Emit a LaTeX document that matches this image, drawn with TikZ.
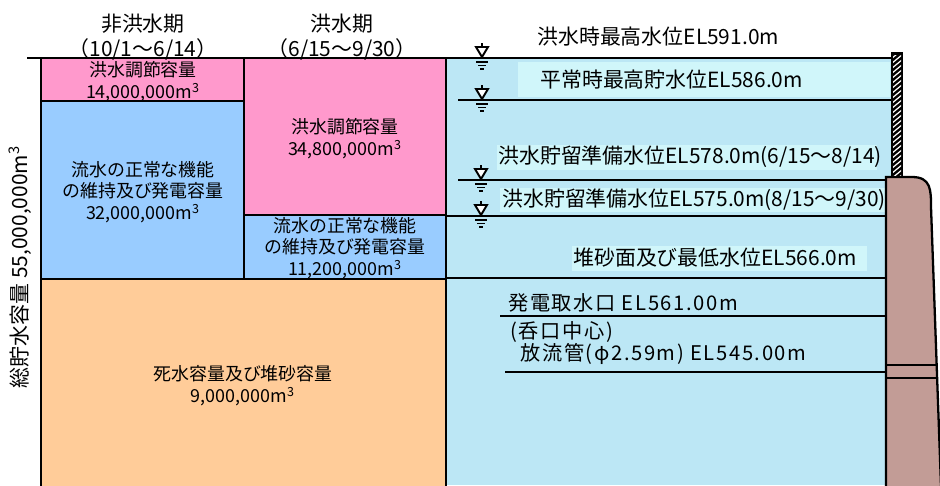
\documentclass[tikz,border=0pt]{standalone}
\usepackage{fontspec}
\setmainfont{Noto Sans CJK JP}
\newfontfamily\widejp[LetterSpace=8]{Noto Sans CJK JP}
\definecolor{floodpink}{RGB}{255,153,204}
\definecolor{usableblue}{RGB}{153,204,255}
\definecolor{deadorange}{RGB}{255,204,153}
\definecolor{waterblue}{RGB}{188,231,245}
\definecolor{tagblue}{RGB}{208,246,250}
\definecolor{damrose}{RGB}{194,156,150}

\begin{document}
\begin{tikzpicture}[
        x=0.02cm, y=-0.02cm,
        capbox/.style={draw, line width=1.1pt},
        captext/.style={align=center, inner sep=0pt, font=\fontsize{10.2}{12.4}\selectfont},
        period/.style={align=center, inner sep=0pt, font=\fontsize{11.9}{14.2}\selectfont},
        level/.style={line width=1.1pt},
        leveltext/.style={anchor=west, inner sep=0pt, font=\fontsize{11.9}{14}\selectfont},
        wlmark/.pic={
            \draw[line width=1.1pt] (0,-15) -- (0,-11);
            \draw[line width=1.1pt, fill=white] (-6,-11) -- (6,-11) -- (0,-1) -- cycle;
            \draw[line width=1pt] (-6,4) -- (6,4) (-4,7.5) -- (4,7.5) (-2,11) -- (2,11);
        }
    ]
    \useasboundingbox (0,0) rectangle (940,485);

    % 貯水池
    \fill[waterblue] (446,58) rectangle (891,485);
    \fill[tagblue] (518,62) rectangle (890,97);
    \fill[tagblue] (497,145) rectangle (877,170);
    \fill[tagblue] (500,188) rectangle (885,212);
    \fill[tagblue] (572,246) rectangle (867,271);

    % 容量配分
    \draw[capbox, fill=floodpink] (41,58) rectangle (244,101);
    \draw[capbox, fill=usableblue] (41,101) rectangle (244,279);
    \draw[capbox, fill=floodpink] (244,58) rectangle (446,215);
    \draw[capbox, fill=usableblue] (244,215) rectangle (446,279);
    \draw[capbox, fill=deadorange] (41,279) rectangle (446,490);

    % 水位線
    \draw[level] (27,58) -- (891,58);
    \draw[level] (458,100) -- (891,100);
    \draw[level] (458,180) -- (891,180);
    \draw[level] (446,216) -- (886,216);
    \draw[level] (446,278) -- (886,278);
    \draw[level] (500,316) -- (886,316);
    \draw[level] (505,372) -- (886,372);

    % ダム本体
    \fill[damrose] (886,177) -- (912,177) .. controls (931,177) and (931,190) .. (931,207)
        -- (941,486) -- (886,486) -- cycle;
    \draw[line width=1.3pt] (886,486) -- (886,177) -- (912,177)
        .. controls (931,177) and (931,190) .. (931,207) -- (941,486);
    \draw[level] (886,365) -- (938,365);
    \draw[level] (886,378) -- (938,378);

    % 天端の壁
    \fill (891,52) rectangle (903,177);
    \begin{scope}
        \clip (893,55) rectangle (901,175);
        \foreach \k in {0,...,28}
            \draw[white, line width=0.7pt] (891,54+5*\k) -- (903,44+5*\k);
    \end{scope}

    % 水位記号
    \pic at (482,58) {wlmark};
    \pic at (482,100) {wlmark};
    \pic at (481,180) {wlmark};
    \pic at (481,216) {wlmark};

    % 期間
    \node[period] (dry) at (143,37) {非洪水期\\（10/1～6/14）};
    \node[period] (wet) at (342,37) {洪水期\\（6/15～9/30）};

    % 容量
    \node[captext] (dryctl) at (143,82) {洪水調節容量\\14,000,000m\textsuperscript{3}};
    \node[captext] (dryuse) at (143,192) {流水の正常な機能\\の維持及び発電容量\\32,000,000m\textsuperscript{3}};
    \node[captext] (wetctl) at (345,139) {洪水調節容量\\34,800,000m\textsuperscript{3}};
    \node[captext] (wetuse) at (345,248) {流水の正常な機能\\の維持及び発電容量\\11,200,000m\textsuperscript{3}};
    \node[captext] (dead) at (243,386) {死水容量及び堆砂容量\\9,000,000m\textsuperscript{3}};
    \node[period, rotate=90] (total) at (20,267) {総貯水容量\ 55,000,000m\textsuperscript{3}};

    % 水位
    \node[leveltext] (hwl) at (537,37) {洪水時最高水位EL591.0m};
    \node[leveltext] (nwl) at (540,80) {平常時最高貯水位EL586.0m};
    \node[leveltext] (fwla) at (498,157) {洪水貯留準備水位EL578.0m(6/15～8/14)};
    \node[leveltext] (fwlb) at (502,200) {洪水貯留準備水位EL575.0m(8/15～9/30)};
    \node[leveltext] (lwl) at (573,258) {堆砂面及び最低水位EL566.0m};
    \node[leveltext, font=\widejp\fontsize{11.5}{14}\selectfont] (intake) at (508,303) {発電取水口 EL561.00m};
    \node[leveltext, font=\widejp\fontsize{11.5}{14}\selectfont] (inlet) at (510,332) {(呑口中心)};
    \node[leveltext, font=\widejp\fontsize{11.5}{14}\selectfont] (outlet) at (520,354) {放流管(φ2.59m) EL545.00m};

\end{tikzpicture}
\end{document}
